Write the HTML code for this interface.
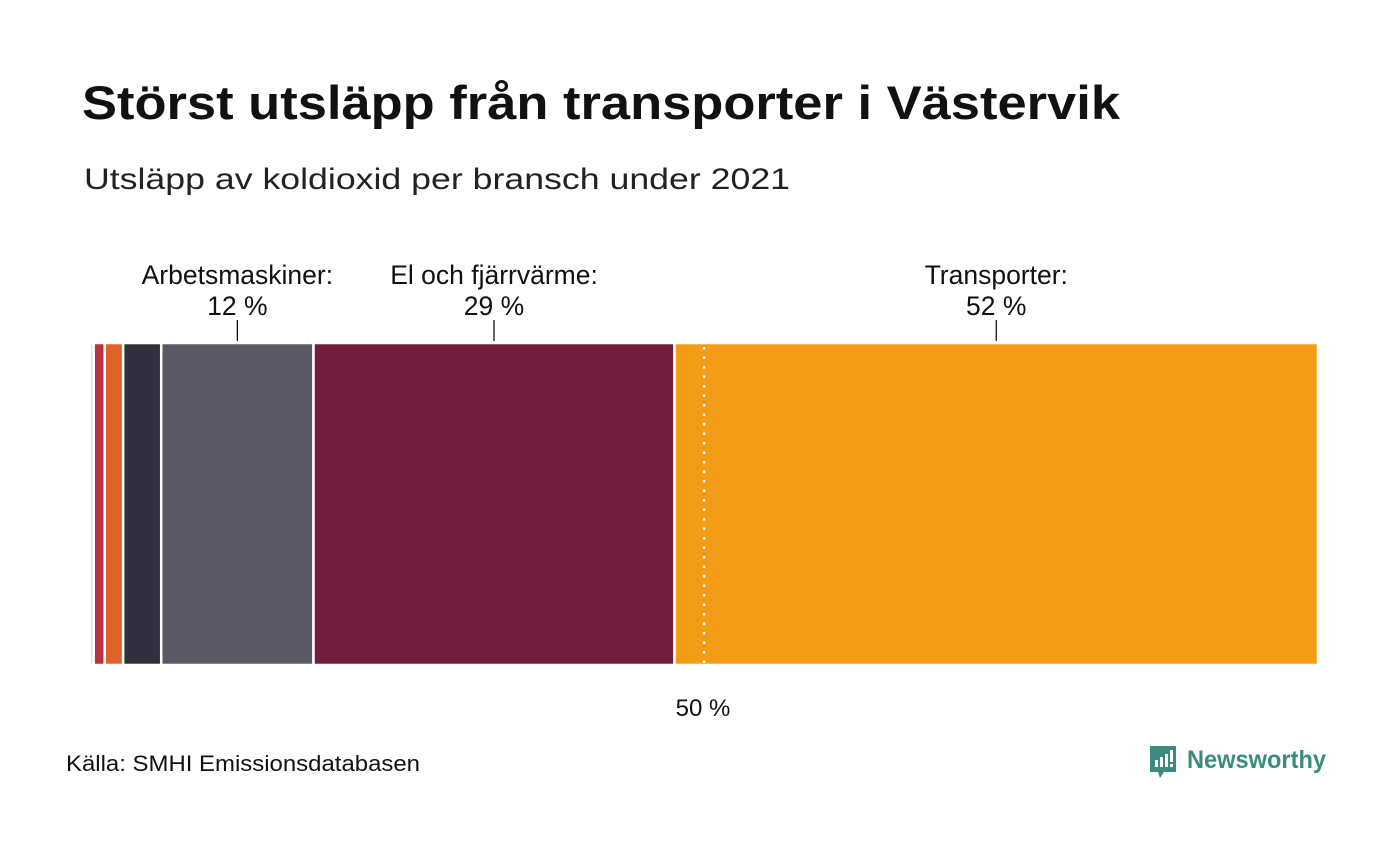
<!DOCTYPE html>
<html><head><meta charset="utf-8"><style>
body{margin:0;background:#fff;width:1400px;height:840px;overflow:hidden;font-family:"Liberation Sans",sans-serif;}
</style></head><body>
<svg width="1400" height="840">
<text x="82" y="119" font-size="47" font-weight="bold" fill="#111" textLength="1038" lengthAdjust="spacingAndGlyphs">Störst utsläpp från transporter i Västervik</text>
<text x="84" y="189" font-size="30" fill="#222" textLength="706" lengthAdjust="spacingAndGlyphs">Utsläpp av koldioxid per bransch under 2021</text>
<g id="bars"></g>
<text x="703" y="716" font-size="24" text-anchor="middle" fill="#111">50 %</text>
<text x="66" y="771" font-size="22" fill="#111" textLength="354" lengthAdjust="spacingAndGlyphs">Källa: SMHI Emissionsdatabasen</text>
<g>
<path d="M1150 746 h26 v26 h-12 l-4 6 l-2 -6 h-8 z" fill="#3a8c80"/>
<rect x="1155" y="760" width="3" height="7" fill="#fff"/><rect x="1160" y="757" width="3" height="10" fill="#fff"/><rect x="1165" y="754" width="3" height="13" fill="#fff"/><rect x="1170" y="750" width="3" height="12" fill="#fff"/><rect x="1170" y="764" width="3" height="3" fill="#fff"/>
<text x="1187" y="768" font-size="25" font-weight="bold" fill="#3a8c80" textLength="139" lengthAdjust="spacingAndGlyphs">Newsworthy</text>
</g>
</svg>
<script>
const categories=["Övrigt","Industri","Jordbruk","Produkter","Arbetsmaskiner","El och fjärrvärme","Transporter"];
const values=[0.3,0.9,1.5,3.1,12.4,29.4,52.4];
const colors=["#d9d9d9","#b8323f","#e0622b","#32303f","#5b5866","#731e3c","#f59c17"];
const labelShown=[false,false,false,false,true,true,true];
const x0=90,x1=1318,yTop=343,yBot=665;
const xs=v=>x0+(x1-x0)*v/100;
const g=document.getElementById('bars');const NS="http://www.w3.org/2000/svg";
let cum=0;
values.forEach((v,i)=>{
 const a=xs(cum),b=xs(cum+v);cum+=v;
 const r=document.createElementNS(NS,'rect');
 r.setAttribute('x',a);r.setAttribute('y',yTop);r.setAttribute('width',Math.max(b-a,0.5));r.setAttribute('height',yBot-yTop);
 r.setAttribute('fill',colors[i]);r.setAttribute('stroke','#fff');r.setAttribute('stroke-width','2.5');
 
 
 g.appendChild(r);
 if(labelShown[i]){
  const c=(a+b)/2;
  const t=document.createElementNS(NS,'text');
  t.setAttribute('x',c);t.setAttribute('text-anchor','middle');t.setAttribute('font-size','26.5');t.setAttribute('fill','#111');
  t.innerHTML='<tspan x="'+c+'" y="284">'+categories[i]+':</tspan><tspan x="'+c+'" y="315">'+Math.round(v)+' %</tspan>';
  
  
  g.appendChild(t);
  const l=document.createElementNS(NS,'line');
  l.setAttribute('x1',c);l.setAttribute('x2',c);l.setAttribute('y1',320);l.setAttribute('y2',341);l.setAttribute('stroke','#111');l.setAttribute('stroke-width','1.3');
  
  
  g.appendChild(l);
 }
});
const ref=document.createElementNS(NS,'line');
ref.setAttribute('x1',xs(50));ref.setAttribute('x2',xs(50));ref.setAttribute('y1',yTop+4);ref.setAttribute('y2',yBot);
ref.setAttribute('stroke','#fff');ref.setAttribute('stroke-width','2.5');ref.setAttribute('stroke-dasharray','2.5 7');


g.appendChild(ref);
</script>
</body></html>
